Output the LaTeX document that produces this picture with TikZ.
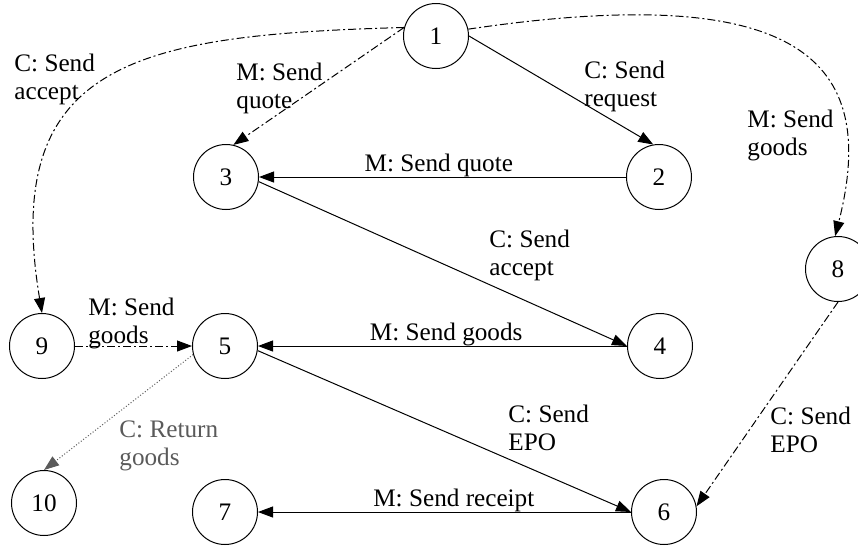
\documentclass[tikz,border=0pt]{standalone}
\usepackage{fontspec}
\setmainfont{Liberation Serif}
\usetikzlibrary{arrows.meta}

\definecolor{retgray}{RGB}{90,90,90}
\newcommand{\lbfont}{\fontsize{12.6pt}{14pt}\selectfont}

\tikzset{
  state/.style={draw, circle, line width=0.5pt, minimum size=32.5pt, inner sep=0pt, font=\lbfont},
  lbl/.style={anchor=north west, align=left, inner sep=0pt, font=\lbfont},
  solidmsg/.style={-{Triangle[length=7.5pt,width=5.5pt]}, line width=0.5pt},
  optmsg/.style={solidmsg, dash pattern=on 4pt off 1.5pt on 1pt off 1.5pt},
  retmsg/.style={solidmsg, retgray, dash pattern=on 0.5pt off 1pt},
}

\begin{document}
\begin{tikzpicture}[x=0.5pt, y=-0.5pt]
  \useasboundingbox (0,0) rectangle (858,548);

  % states
  \node[state] (n1) at (436,36) {1};
  \node[state] (n2) at (659,177) {2};
  \node[state] (n3) at (226,177) {3};
  \node[state] (n4) at (660,346) {4};
  \node[state] (n5) at (225,346) {5};
  \node[state] (n6) at (664,512) {6};
  \node[state] (n7) at (225,512) {7};
  \node[state] (n8) at (838,269) {8};
  \node[state] (n9) at (42,346) {9};
  \node[state] (n10) at (44,503) {10};

  % main exchange
  \draw[solidmsg] (n1.east) to (n2.100);
  \draw[solidmsg] (n2.west) to node[above, inner sep=0pt, pos=0.51, font=\lbfont] (q23) {M: Send quote} (n3.east);
  \draw[solidmsg] (n3.-8) to (n4.west);
  \draw[solidmsg] (n4.west) to node[above, inner sep=0pt, pos=0.49, font=\lbfont] (q45) {M: Send goods} (n5.east);
  \draw[solidmsg] (n5.-8) to (n6.west);
  \draw[solidmsg] (n6.west) to node[above, inner sep=0pt, pos=0.475, font=\lbfont] (q67) {M: Send receipt} (n7.east);

  % shortcuts
  \draw[optmsg] (n1.165) to (n3.77);
  \draw[optmsg] (n1.165) .. controls (140,35) and (0,60) .. (n9.north);
  \draw[optmsg] (n1.12) .. controls (800,-20) and (880,60) .. (n8.95);
  \draw[optmsg] (n8.south) to (n6.10);
  \draw[optmsg] (n9.east) to (n5.west);
  \draw[retmsg] (n5.195) to (n10.north);

  % labels
  \node[lbl] (q12) at (584,61) {C: Send\\request};
  \node[lbl] (q13) at (236,63) {M: Send\\quote};
  \node[lbl] (q19) at (14,54) {C: Send\\accept};
  \node[lbl] (q18) at (747,110) {M: Send\\goods};
  \node[lbl] (q34) at (489,230) {C: Send\\accept};
  \node[lbl] (q56) at (508,405) {C: Send\\EPO};
  \node[lbl] (q86) at (770,407) {C: Send\\EPO};
  \node[lbl] (q95) at (88,298) {M: Send\\goods};
  \node[lbl, retgray] (q510) at (119,420) {C: Return\\goods};
\end{tikzpicture}
\end{document}
